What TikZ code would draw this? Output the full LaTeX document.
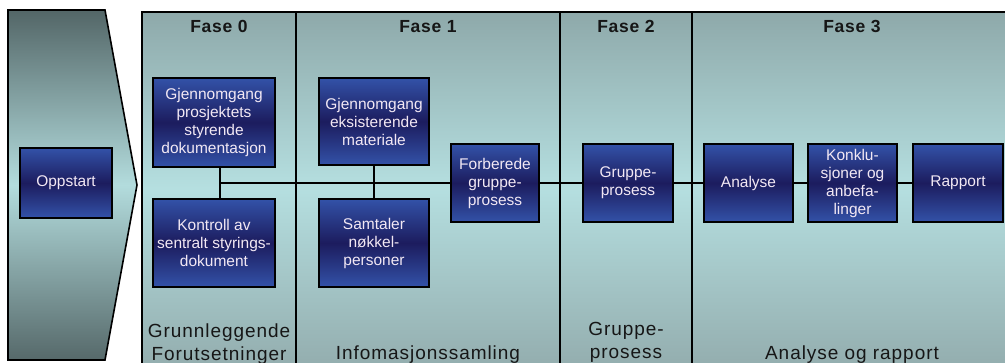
\documentclass[tikz,border=0pt]{standalone}
\usepackage{fontspec}
\setmainfont{Liberation Sans}
\definecolor{panelTop}{HTML}{8EA9AA}
\definecolor{panelMid}{HTML}{B5DFE0}
\definecolor{panelBot}{HTML}{94AEAF}
\definecolor{chevTop}{HTML}{536667}
\definecolor{chevMid}{HTML}{B3DCDD}
\definecolor{chevBot}{HTML}{56696A}
\definecolor{boxEdge}{HTML}{3352A8}
\definecolor{boxCore}{HTML}{1C1C5E}
\definecolor{boxText}{HTML}{F2E8F4}
\definecolor{headText}{HTML}{161616}
\tikzset{
  task/.style={draw=black, line width=1.3pt, top color=boxEdge, bottom color=boxEdge,
    middle color=boxCore, text=boxText, align=center, inner sep=1pt,
    font=\fontsize{15.5}{18}\selectfont},
  phasehead/.style={anchor=base, text=headText,
    font=\fontsize{17.5}{20}\selectfont\bfseries\addfontfeatures{LetterSpace=4}},
  phasefoot/.style={anchor=base, text=headText, align=center,
    font=\fontsize{19}{23}\selectfont\addfontfeatures{LetterSpace=5}},
  link/.style={draw=black, line width=1.3pt},
  border/.style={draw=black, line width=2.2pt}
}
\begin{document}
\begin{tikzpicture}[x=1pt,y=-1pt]
\useasboundingbox (0,0) rectangle (1005,362);
\fill[white] (0,0) rectangle (1005,362);

% start chevron
\shade[top color=chevTop, bottom color=chevBot, middle color=chevMid]
  (8,10) -- (105,10) -- (137,185) -- (105,360) -- (8,360) -- cycle;
\draw[black, line width=1.6pt, line join=miter]
  (8,10) -- (105,10) -- (137,185) -- (105,360) -- (8,360) -- cycle;

% phase panel
\shade[top color=panelTop, bottom color=panelBot, middle color=panelMid]
  (142,12) rectangle (1015,364);
\draw[border] (142,12) rectangle (1015,372);
\draw[border] (296,12) -- (296,372);
\draw[border] (560,12) -- (560,372);
\draw[border] (692,12) -- (692,372);

% phase headings
\node[phasehead] (h0) at (219,32) {Fase 0};
\node[phasehead] (h1) at (428,32) {Fase 1};
\node[phasehead] (h2) at (626,32) {Fase 2};
\node[phasehead] (h3) at (852,32) {Fase 3};

% phase footers
\node[phasefoot] (f0a) at (219,337) {Grunnleggende};
\node[phasefoot] (f0b) at (219,360) {Forutsetninger};
\node[phasefoot] (f1) at (428,359) {Infomasjonssamling};
\node[phasefoot] (f2a) at (626,335) {Gruppe-};
\node[phasefoot] (f2b) at (626,358) {prosess};
\node[phasefoot] (f3) at (852,359) {Analyse og rapport};

% task boxes
\node[task, minimum width=92pt, minimum height=70pt] (op) at (66,183) {Oppstart};
\node[task, minimum width=122pt, minimum height=89pt] (g0) at (214,122.5)
  {Gjennomgang\\prosjektets\\styrende\\dokumentasjon};
\node[task, minimum width=122pt, minimum height=88pt] (k0) at (214,243)
  {Kontroll av\\sentralt styrings-\\dokument};
\node[task, minimum width=110pt, minimum height=87pt] (ge) at (374,121.5)
  {Gjennomgang\\eksisterende\\materiale};
\node[task, minimum width=110pt, minimum height=88pt] (sn) at (374,243)
  {Samtaler\\nøkkel-\\personer};
\node[task, minimum width=88pt, minimum height=78pt] (fb) at (495,183)
  {Forberede\\gruppe-\\prosess};
\node[task, minimum width=90pt, minimum height=78pt] (gp) at (628,183)
  {Gruppe-\\prosess};
\node[task, minimum width=89pt, minimum height=78pt] (an) at (748.5,183) {Analyse};
\node[task, minimum width=89pt, minimum height=78pt] (ko) at (852.5,183)
  {Konklu-\\sjoner og\\anbefa-\\linger};
\node[task, minimum width=90pt, minimum height=78pt] (ra) at (958,183) {Rapport};

% connectors
\coordinate (j0) at (220,183);
\draw[link] (g0.south -| j0) -- (k0.north -| j0);
\draw[link] (ge.south) -- (sn.north);
\draw[link] (j0) -- (fb.west);
\draw[link] (fb.east) -- (gp.west);
\draw[link] (gp.east) -- (an.west);
\draw[link] (an.east) -- (ko.west);
\draw[link] (ko.east) -- (ra.west);
\end{tikzpicture}
\end{document}
